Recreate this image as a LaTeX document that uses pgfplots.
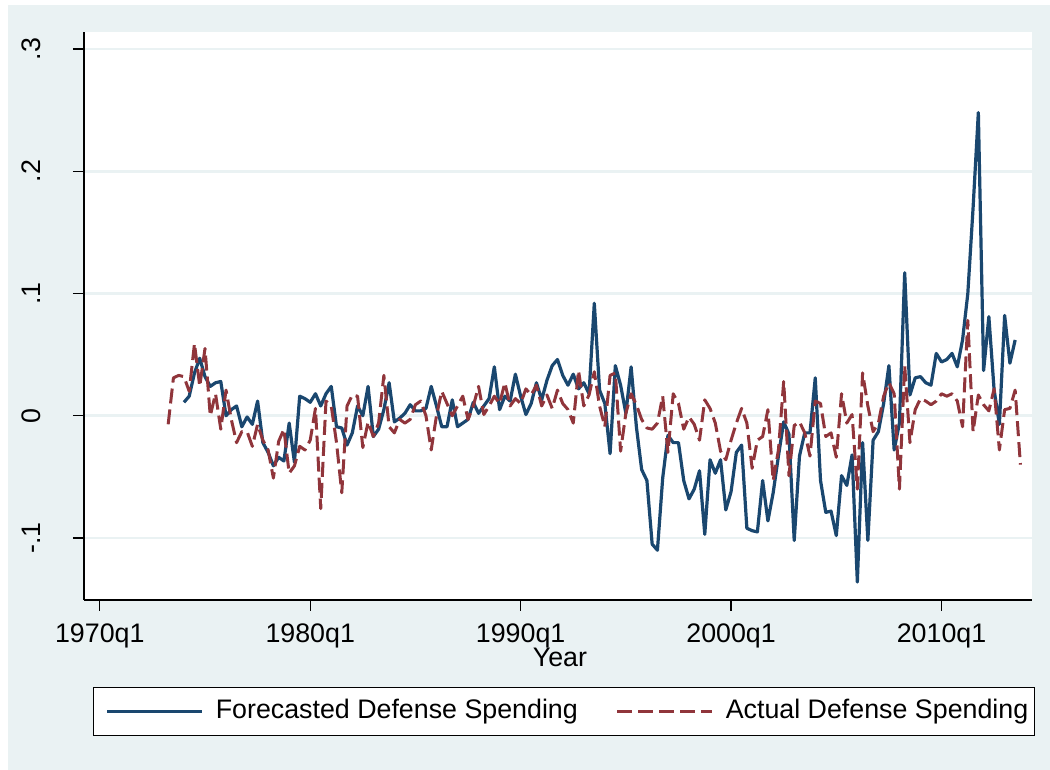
\documentclass[border=0pt]{standalone}
\usepackage{fontspec}
\setmainfont{Liberation Sans}
\usepackage{pgfplots}
\usepackage{pgfplotstable}
\pgfplotsset{compat=1.18}
\definecolor{bgc}{RGB}{234,242,243}
\definecolor{snavy}{RGB}{26,71,111}
\definecolor{smaroon}{RGB}{144,53,59}

% t = quarters since 1960q1 (1970q1 = 40)
\pgfplotstableread{
t f
56 0.011
57 0.016
58 0.035
59 0.047
60 0.032
61 0.024
62 0.027
63 0.028
64 0.000
65 0.005
66 0.008
67 -0.009
68 -0.001
69 -0.007
70 0.012
71 -0.022
72 -0.030
73 -0.041
74 -0.034
75 -0.037
76 -0.006
77 -0.038
78 0.016
79 0.014
80 0.011
81 0.018
82 0.008
83 0.018
84 0.024
85 -0.009
86 -0.010
87 -0.024
88 -0.014
89 0.008
90 0.000
91 0.024
92 -0.017
93 -0.011
94 0.005
95 0.027
96 -0.005
97 -0.002
98 0.002
99 0.009
100 0.004
101 0.004
102 0.006
103 0.024
104 0.008
105 -0.009
106 -0.009
107 0.013
108 -0.009
109 -0.006
110 -0.003
111 0.011
112 0.002
113 0.008
114 0.014
115 0.040
116 0.005
117 0.016
118 0.012
119 0.034
120 0.016
121 0.001
122 0.010
123 0.027
124 0.013
125 0.029
126 0.041
127 0.046
128 0.033
129 0.025
130 0.034
131 0.022
132 0.027
133 0.018
134 0.092
135 0.021
136 0.010
137 -0.031
138 0.041
139 0.025
140 0.002
141 0.040
142 -0.009
143 -0.044
144 -0.053
145 -0.105
146 -0.110
147 -0.051
148 -0.016
149 -0.022
150 -0.022
151 -0.053
152 -0.068
153 -0.060
154 -0.045
155 -0.097
156 -0.036
157 -0.047
158 -0.036
159 -0.077
160 -0.062
161 -0.030
162 -0.024
163 -0.092
164 -0.094
165 -0.095
166 -0.053
167 -0.086
168 -0.063
169 -0.033
170 -0.005
171 -0.015
172 -0.102
173 -0.033
174 -0.014
175 -0.014
176 0.031
177 -0.053
178 -0.079
179 -0.078
180 -0.098
181 -0.049
182 -0.057
183 -0.032
184 -0.136
185 -0.022
186 -0.102
187 -0.020
188 -0.013
189 0.010
190 0.041
191 -0.028
192 -0.006
193 0.117
194 0.017
195 0.031
196 0.032
197 0.027
198 0.025
199 0.051
200 0.044
201 0.046
202 0.051
203 0.040
204 0.062
205 0.100
206 0.170
207 0.248
208 0.037
209 0.081
210 0.021
211 -0.007
212 0.082
213 0.043
214 0.062
}\forecast

\pgfplotstableread{
t a
53 -0.007
54 0.031
55 0.033
56 0.032
57 0.020
58 0.059
59 0.024
60 0.055
61 0.000
62 0.018
63 -0.011
64 0.021
65 -0.003
66 -0.022
67 -0.013
68 -0.013
69 -0.025
70 -0.007
71 -0.020
72 -0.028
73 -0.051
74 -0.021
75 -0.011
76 -0.047
77 -0.041
78 -0.025
79 -0.028
80 -0.020
81 0.006
82 -0.076
83 0.012
84 0.008
85 -0.022
86 -0.063
87 0.008
88 0.017
89 0.016
90 -0.026
91 -0.005
92 -0.017
93 -0.006
94 0.033
95 -0.009
96 -0.014
97 -0.003
98 -0.006
99 -0.003
100 0.009
101 0.012
102 0.000
103 -0.028
104 0.000
105 0.020
106 0.010
107 0.000
108 0.008
109 0.016
110 -0.003
111 0.008
112 0.024
113 0.001
114 0.008
115 0.016
116 0.010
117 0.027
118 0.008
119 0.014
120 0.010
121 0.022
122 0.017
123 0.025
124 0.008
125 0.017
126 0.006
127 0.021
128 0.010
129 0.005
130 -0.006
131 0.037
132 0.008
133 0.017
134 0.036
135 0.008
136 -0.009
137 0.033
138 0.035
139 -0.029
140 0.002
141 0.018
142 0.009
143 -0.003
144 -0.010
145 -0.011
146 -0.006
147 0.016
148 -0.030
149 0.018
150 0.010
151 -0.011
152 -0.001
153 -0.007
154 -0.020
155 0.013
156 0.006
157 -0.006
158 -0.029
159 -0.036
160 -0.020
161 -0.006
162 0.006
163 -0.006
164 -0.043
165 -0.020
166 -0.017
167 0.005
168 -0.053
169 -0.028
170 0.028
171 -0.049
172 -0.008
173 -0.005
174 -0.014
175 -0.033
176 0.012
177 0.010
178 -0.017
179 -0.014
180 -0.034
181 0.018
182 -0.006
183 0.001
184 -0.060
185 0.035
186 0.008
187 -0.013
188 -0.006
189 0.016
190 0.027
191 0.018
192 -0.060
193 0.041
194 -0.022
195 0.005
196 0.014
197 0.012
198 0.009
199 0.012
200 0.018
201 0.016
202 0.018
203 0.012
204 -0.009
205 0.078
206 -0.013
207 0.017
208 0.009
209 0.004
210 0.022
211 -0.028
212 0.005
213 0.006
214 0.021
215 -0.040
}\actual

\begin{document}
\begin{tikzpicture}
\fill[bgc] (0,0) rectangle (525pt,385pt);
\fill[white] (0,382.5pt) rectangle (525pt,385pt);
\fill[white] (0,0) rectangle (4pt,385pt);
\begin{axis}[
  at={(42pt,85pt)}, anchor=south west,
  scale only axis, width=474pt, height=284pt,
  xmin=37, xmax=217.2, ymin=-0.1507, ymax=0.3139,
  axis lines*=left,
  axis line style={-, black, line width=0.6pt},
  axis background/.style={fill=white},
  xtick={40,80,120,160,200},
  xticklabels={1970q1,1980q1,1990q1,2000q1,2010q1},
  ytick={-0.1,0,0.1,0.2,0.3},
  yticklabels={{-.1},{0},{.1},{.2},{.3}},
  tick align=outside, major tick length=5.5pt,
  tick style={black, line width=0.6pt},
  ymajorgrids, grid style={bgc, line width=1.3pt},
  ticklabel style={font=\fontsize{13.4}{16}\selectfont},
  xticklabel style={anchor=north, inner sep=0pt, yshift=-6pt},
  yticklabel style={rotate=90, anchor=south, inner sep=0pt, yshift=16pt},
  xlabel={Year},
  xlabel style={at={(axis description cs:0.502,0)}, anchor=north, inner sep=0pt, yshift=-24pt, font=\fontsize{13.4}{16}\selectfont},
  legend columns=2,
  legend cell align=left,
  legend image code/.code={\path (0pt,0pt); \draw[#1] (3pt,0pt) -- (50.5pt,0pt);},
  legend style={at={(0.0095,-0.1532)}, anchor=north west, draw=black, line width=0.6pt, fill=white,
    font=\fontsize{13.4}{16}\selectfont, inner xsep=3pt, inner ysep=5.5pt,
    nodes={inner sep=0pt, text height=10pt, text depth=3pt},
    /tikz/every odd column/.append style={column sep=6pt},
    /tikz/every even column/.append style={column sep=16pt}},
]
\addplot[snavy, line width=1.6pt, line join=round] table[x=t, y=f] {\forecast};
\addlegendentry{Forecasted Defense Spending}
\addplot[smaroon, line width=1.5pt, dash pattern=on 7.5pt off 3pt, line join=round] table[x=t, y=a] {\actual};
\addlegendentry{Actual Defense Spending}
\end{axis}
\end{tikzpicture}
\end{document}
